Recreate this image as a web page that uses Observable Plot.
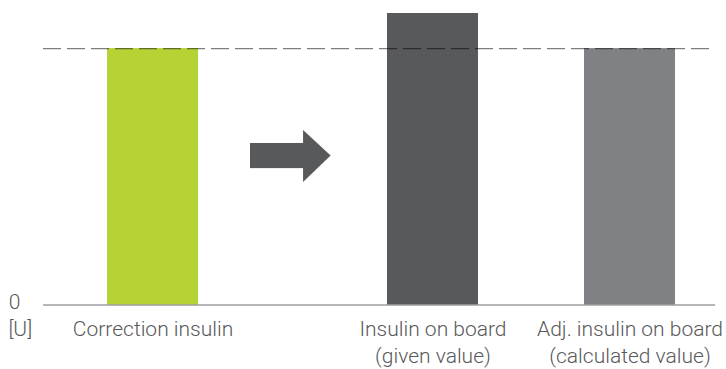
<!DOCTYPE html>
<html>
<head>
<meta charset="utf-8">
<script src="https://cdn.jsdelivr.net/npm/d3@7"></script>
<script src="https://cdn.jsdelivr.net/npm/@observablehq/plot@0.6"></script>
<style>
  html, body { margin: 0; padding: 0; background: #fff; }
  #chart svg { display: block; }
</style>
</head>
<body>
<div id="chart"></div>
<script>
// ---- data ----
const categories = ["Correction insulin", "Insulin on board", "Adj. insulin on board"];
const subLabels = ["", "(given value)", "(calculated value)"];
const values = [10, 11.37, 10];
const barColors = ["#b5d334", "#58595b", "#808184"];
const referenceValue = 10;
const yTicks = [0];
const unitLabel = "[U]";

// ---- layout (code, in percent of the plot frame) ----
const barCenters = [16.3, 57.96, 87.28];
const barWidth = 13.54;
const arrowShaft = {x1: 30.8, x2: 38.8, y1: 5.32, y2: 6.30};
const arrowHead = [{x: 38.7, y1: 4.78, y2: 6.81}, {x: 42.8, y1: 5.81, y2: 5.81}];

const bars = categories.map((c, i) => ({
  category: c, sub: subLabels[i], value: values[i], color: barColors[i],
  x1: barCenters[i] - barWidth / 2, x2: barCenters[i] + barWidth / 2, xc: barCenters[i]
}));

const font = "Roboto, 'Liberation Sans', sans-serif";
const textColor = "#58595b";
const fs = 21;

const chart = Plot.plot({
  width: 726,
  height: 369,
  marginLeft: 43,
  marginRight: 11,
  marginTop: 13,
  marginBottom: 64.5,
  x: {domain: [0, 100], axis: null},
  y: {domain: [0, 11.37]},
  color: {type: "identity"},
  style: {fontFamily: font, fontSize: fs + "px", color: textColor, background: "#fff"},
  marks: [
    Plot.rect(bars, {x1: "x1", x2: "x2", y1: 0, y2: "value", fill: "color"}),
    Plot.ruleY([0], {stroke: "#6d6e71", strokeWidth: 1}),
    Plot.ruleY([referenceValue], {stroke: "#000", strokeOpacity: 0.5, strokeWidth: 1.3, strokeDasharray: "18,6"}),
    Plot.rect([arrowShaft], {x1: "x1", x2: "x2", y1: "y1", y2: "y2", fill: "#58595b"}),
    Plot.areaY(arrowHead, {x: "x", y1: "y1", y2: "y2", fill: "#58595b"}),
    Plot.axisY(yTicks, {tickSize: 0, tickPadding: 23, dy: -3, fontSize: fs, fontWeight: 300, label: null, fill: textColor}),
    Plot.text([unitLabel], {frameAnchor: "bottom-left", dx: -35, dy: 24, textAnchor: "start", lineAnchor: "middle", fontSize: fs, fontWeight: 300, fill: textColor}),
    Plot.text(bars, {x: "xc", frameAnchor: "bottom", text: "category", dy: 24, lineAnchor: "middle", fontSize: fs, fontWeight: 300, fill: textColor}),
    Plot.text(bars, {x: "xc", frameAnchor: "bottom", text: "sub", dy: 51, lineAnchor: "middle", fontSize: fs, fontWeight: 300, fill: textColor})
  ]
});
document.getElementById("chart").appendChild(chart);
</script>
</body>
</html>
